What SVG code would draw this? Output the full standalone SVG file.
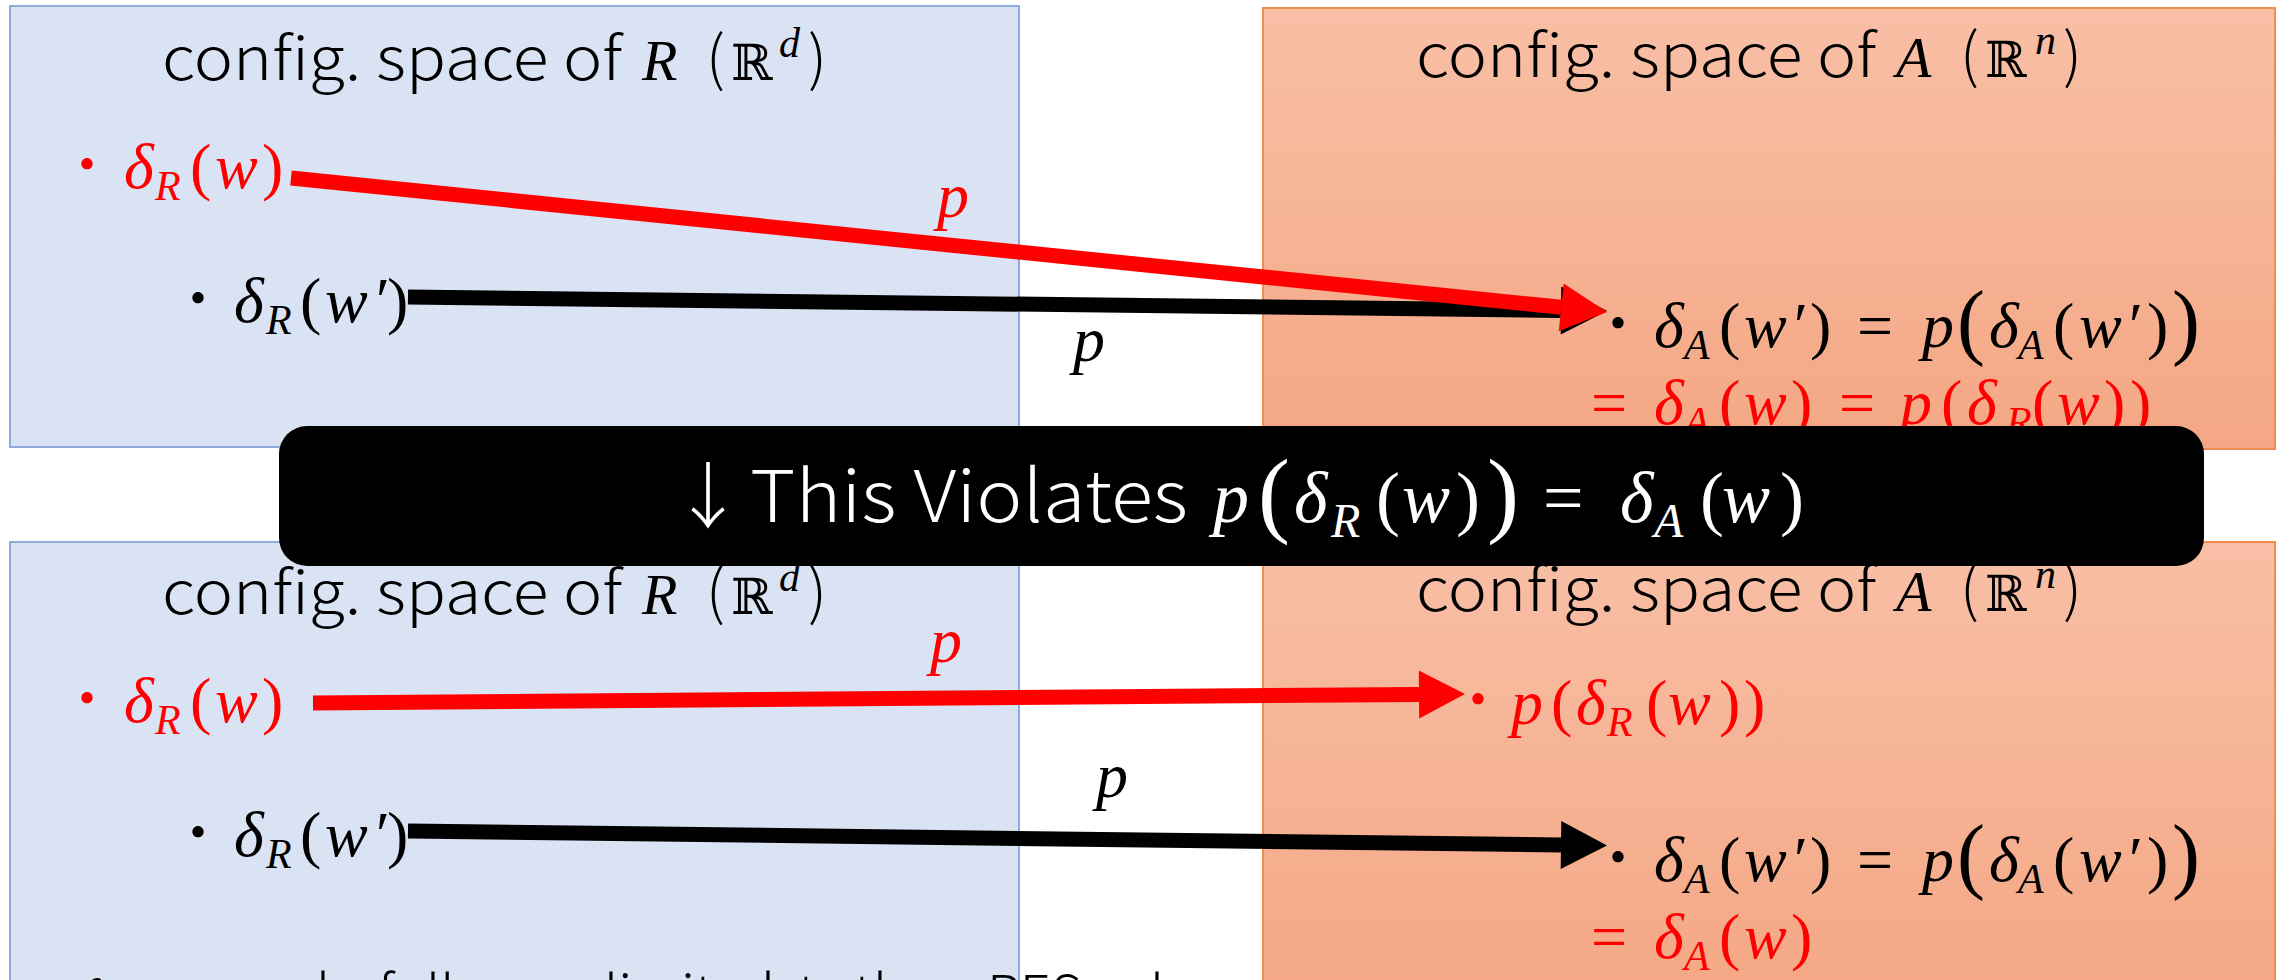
<svg xmlns="http://www.w3.org/2000/svg" width="2282" height="980" viewBox="0 0 2282 980">
<style>
.box-b{fill:#DAE3F3;stroke:#8FAADC;stroke-width:2}
.box-o{fill:url(#og);stroke:#F08C50;stroke-width:2}
.cjk{font-family:"Noto Sans CJK JP","Noto Sans",sans-serif;font-style:normal;font-weight:300}
.m{font-family:"Liberation Serif","DejaVu Serif",serif;font-style:italic}
.u{font-style:normal}
.bb{font-family:"DejaVu Serif",serif;font-style:normal}
.red{fill:#FF0000}
.wht{fill:#FFFFFF}
.ln{fill:none;stroke-width:15;stroke-linecap:butt}
</style>
<defs>
<linearGradient id="og" x1="0" y1="0" x2="0" y2="1">
<stop offset="0" stop-color="#F8BFA6"/>
<stop offset="1" stop-color="#F4A784"/>
</linearGradient>
<marker id="ahR" markerUnits="userSpaceOnUse" markerWidth="46" markerHeight="48" refX="0" refY="24" orient="auto" viewBox="0 0 46 48" overflow="visible"><path d="M0,0 L46,24 L0,48 Z" fill="#FF0000"/></marker>
<marker id="ahK" markerUnits="userSpaceOnUse" markerWidth="46" markerHeight="48" refX="0" refY="24" orient="auto" viewBox="0 0 46 48" overflow="visible"><path d="M0,0 L46,24 L0,48 Z" fill="#000000"/></marker>
</defs>

<!-- top-left: config space of R -->
<g id="node-r-top">
<rect class="box-b" x="10" y="6" width="1009" height="441"/>
<text class="cjk" x="162" y="80" font-size="60" textLength="460" lengthAdjust="spacingAndGlyphs">config. space of</text>
<text class="m" y="80" font-size="58"><tspan x="642">R</tspan><tspan class="cjk" x="706" font-size="60">(</tspan><tspan class="bb" x="731" font-size="50">ℝ</tspan><tspan x="779" y="57" font-size="42">d</tspan><tspan class="cjk" x="808" y="80" font-size="60">)</tspan></text>
<text class="cjk red" x="87" y="187" font-size="60" text-anchor="middle">・</text>
<text class="m red" y="188" font-size="64"><tspan x="124">δ</tspan><tspan x="155" y="200" font-size="42">R</tspan><tspan class="u" x="190" y="188">(</tspan><tspan x="215">w</tspan><tspan class="u" x="262">)</tspan></text>
<text class="cjk" x="198" y="321" font-size="60" text-anchor="middle">・</text>
<text class="m" y="322" font-size="64"><tspan x="234">δ</tspan><tspan x="266" y="334" font-size="42">R</tspan><tspan class="u" x="300" y="322">(</tspan><tspan x="325">w</tspan><tspan x="372">′</tspan><tspan class="u" x="387">)</tspan></text>
</g>

<!-- top-right: config space of A -->
<g id="node-a-top">
<rect class="box-o" x="1263" y="8" width="1012" height="441"/>
<text class="cjk" x="1416" y="77" font-size="60" textLength="460" lengthAdjust="spacingAndGlyphs">config. space of</text>
<text class="m" y="77" font-size="58"><tspan x="1896">A</tspan><tspan class="cjk" x="1960" font-size="60">(</tspan><tspan class="bb" x="1985" font-size="50">ℝ</tspan><tspan x="2035" y="54" font-size="42">n</tspan><tspan class="cjk" x="2063" y="77" font-size="60">)</tspan></text>
<text class="cjk" x="1618" y="346" font-size="60" text-anchor="middle">・</text>
<text class="m" y="347" font-size="64"><tspan x="1654">δ</tspan><tspan x="1684" y="359" font-size="42">A</tspan><tspan class="u" x="1719" y="347">(</tspan><tspan x="1744">w</tspan><tspan x="1790">′</tspan><tspan class="u" x="1810">)</tspan><tspan class="u" x="1857">=</tspan><tspan x="1922">p</tspan><tspan class="u" x="1957" y="349" font-size="84">(</tspan><tspan x="1989" y="347">δ</tspan><tspan x="2018" y="359" font-size="42">A</tspan><tspan class="u" x="2053" y="347">(</tspan><tspan x="2079">w</tspan><tspan x="2125">′</tspan><tspan class="u" x="2147">)</tspan><tspan class="u" x="2172" y="349" font-size="84">)</tspan></text>
<text class="m red" y="424" font-size="64"><tspan class="u" x="1591">=</tspan><tspan x="1654">δ</tspan><tspan x="1684" y="436" font-size="42">A</tspan><tspan class="u" x="1719" y="424">(</tspan><tspan x="1744">w</tspan><tspan class="u" x="1791">)</tspan><tspan class="u" x="1839">=</tspan><tspan x="1900">p</tspan><tspan class="u" x="1941">(</tspan><tspan x="1967">δ</tspan><tspan x="2006" y="436" font-size="42">R</tspan><tspan class="u" x="2032" y="424">(</tspan><tspan x="2057">w</tspan><tspan class="u" x="2104">)</tspan><tspan class="u" x="2130">)</tspan></text>
</g>

<!-- bottom-left: config space of R -->
<g id="node-r-bottom">
<rect class="box-b" x="10" y="542" width="1009" height="460"/>
<text class="cjk" x="162" y="614" font-size="60" textLength="460" lengthAdjust="spacingAndGlyphs">config. space of</text>
<text class="m" y="614" font-size="58"><tspan x="642">R</tspan><tspan class="cjk" x="706" font-size="60">(</tspan><tspan class="bb" x="731" font-size="50">ℝ</tspan><tspan x="779" y="591" font-size="42">d</tspan><tspan class="cjk" x="808" y="614" font-size="60">)</tspan></text>
<text class="cjk red" x="87" y="721" font-size="60" text-anchor="middle">・</text>
<text class="m red" y="722" font-size="64"><tspan x="124">δ</tspan><tspan x="155" y="734" font-size="42">R</tspan><tspan class="u" x="190" y="722">(</tspan><tspan x="215">w</tspan><tspan class="u" x="262">)</tspan></text>
<text class="cjk" x="198" y="855" font-size="60" text-anchor="middle">・</text>
<text class="m" y="856" font-size="64"><tspan x="234">δ</tspan><tspan x="266" y="868" font-size="42">R</tspan><tspan class="u" x="300" y="856">(</tspan><tspan x="325">w</tspan><tspan x="372">′</tspan><tspan class="u" x="387">)</tspan></text>
<text class="cjk" y="1014" font-size="54"><tspan class="m" x="80">ℓ</tspan><tspan x="140">can</tspan><tspan x="316">be</tspan><tspan x="378">fully</tspan><tspan x="604">limited</tspan><tspan x="798">to</tspan><tspan x="854">the</tspan><tspan x="987">RES</tspan><tspan x="1150">l</tspan></text>
</g>

<!-- bottom-right: config space of A -->
<g id="node-a-bottom">
<rect class="box-o" x="1263" y="542" width="1012" height="460"/>
<text class="cjk" x="1416" y="611" font-size="60" textLength="460" lengthAdjust="spacingAndGlyphs">config. space of</text>
<text class="m" y="611" font-size="58"><tspan x="1896">A</tspan><tspan class="cjk" x="1960" font-size="60">(</tspan><tspan class="bb" x="1985" font-size="50">ℝ</tspan><tspan x="2035" y="588" font-size="42">n</tspan><tspan class="cjk" x="2063" y="611" font-size="60">)</tspan></text>
<text class="cjk red" x="1478" y="722" font-size="60" text-anchor="middle">・</text>
<text class="m red" y="724" font-size="64"><tspan x="1511">p</tspan><tspan class="u" x="1551">(</tspan><tspan x="1576">δ</tspan><tspan x="1607" y="736" font-size="42">R</tspan><tspan class="u" x="1646" y="724">(</tspan><tspan x="1668">w</tspan><tspan class="u" x="1719">)</tspan><tspan class="u" x="1744">)</tspan></text>
<text class="cjk" x="1618" y="880" font-size="60" text-anchor="middle">・</text>
<text class="m" y="881" font-size="64"><tspan x="1654">δ</tspan><tspan x="1684" y="893" font-size="42">A</tspan><tspan class="u" x="1719" y="881">(</tspan><tspan x="1744">w</tspan><tspan x="1790">′</tspan><tspan class="u" x="1810">)</tspan><tspan class="u" x="1857">=</tspan><tspan x="1922">p</tspan><tspan class="u" x="1957" y="883" font-size="84">(</tspan><tspan x="1989" y="881">δ</tspan><tspan x="2018" y="893" font-size="42">A</tspan><tspan class="u" x="2053" y="881">(</tspan><tspan x="2079">w</tspan><tspan x="2125">′</tspan><tspan class="u" x="2147">)</tspan><tspan class="u" x="2172" y="883" font-size="84">)</tspan></text>
<text class="m red" y="958" font-size="64"><tspan class="u" x="1591">=</tspan><tspan x="1654">δ</tspan><tspan x="1684" y="970" font-size="42">A</tspan><tspan class="u" x="1719" y="958">(</tspan><tspan x="1744">w</tspan><tspan class="u" x="1791">)</tspan></text>
</g>

<!-- connectors -->
<g id="connectors">
<path class="ln" stroke="#000000" d="M408,297 L1561,310.5" marker-end="url(#ahK)"/>
<path class="ln" stroke="#FF0000" d="M291,178 L1561.2,307.3" marker-end="url(#ahR)"/>
<text class="m red" x="937" y="217" font-size="64">p</text>
<text class="m" x="1073" y="361" font-size="64">p</text>
<path class="ln" stroke="#FF0000" d="M313,703 L1419,694.4" marker-end="url(#ahR)"/>
<path class="ln" stroke="#000000" d="M408,831 L1561,845" marker-end="url(#ahK)"/>
<text class="m red" x="930" y="662" font-size="64">p</text>
<text class="m" x="1096" y="797" font-size="64">p</text>
</g>

<!-- banner -->
<g id="banner">
<rect x="279" y="426" width="1925" height="140" rx="28" ry="28" fill="#000000"/>
<text class="cjk wht" x="708" y="522" font-size="72" text-anchor="middle">↓</text>
<text class="cjk wht" x="750" y="522" font-size="72" textLength="438" lengthAdjust="spacingAndGlyphs">This Violates</text>
<text class="m wht" y="522" font-size="72"><tspan x="1213">p</tspan><tspan class="u" x="1258" y="525" font-size="96">(</tspan><tspan x="1294" y="522">δ</tspan><tspan x="1331" y="537" font-size="48">R</tspan><tspan class="u" x="1376" y="522">(</tspan><tspan x="1402">w</tspan><tspan class="u" x="1456">)</tspan><tspan class="u" x="1487" y="525" font-size="96">)</tspan><tspan class="u" x="1543" y="522">=</tspan><tspan x="1620">δ</tspan><tspan x="1654" y="537" font-size="48">A</tspan><tspan class="u" x="1700" y="522">(</tspan><tspan x="1722">w</tspan><tspan class="u" x="1780">)</tspan></text>
</g>
</svg>
